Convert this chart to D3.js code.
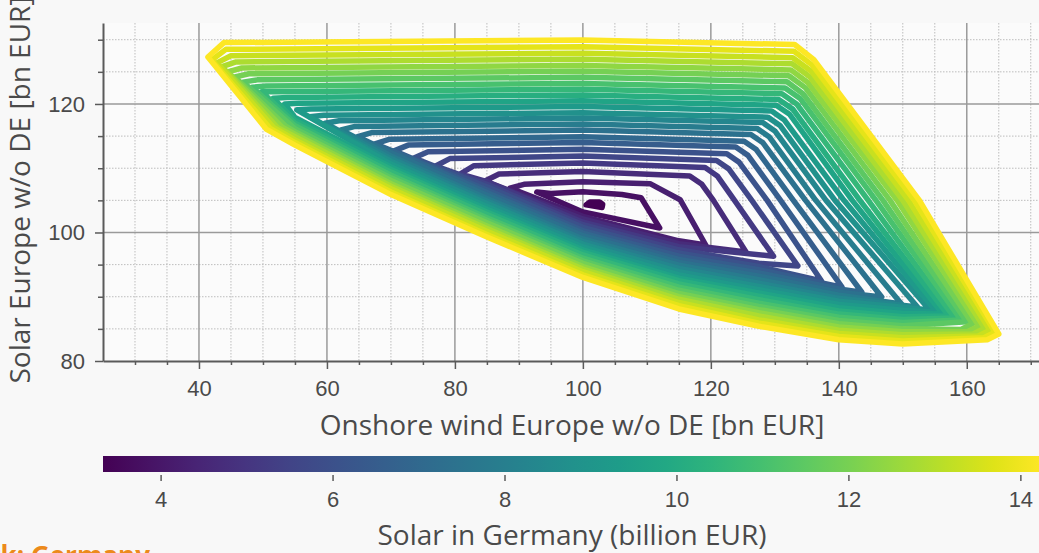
<!DOCTYPE html>
<html>
<head>
<meta charset="utf-8">
<script src="https://cdn.jsdelivr.net/npm/d3@7"></script>
<style>
  html, body { margin: 0; padding: 0; background: #f8f8f8; }
  svg { display: block; font-family: "Open Sans", "Noto Sans", sans-serif; }
</style>
</head>
<body>
<svg id="chart" width="1039" height="553"></svg>
<script>
// Contour levels: solar capacity cost in Germany (billion EUR), innermost first
const levels = [3.33, 3.78, 4.24, 4.69, 5.15, 5.60, 6.06, 6.51, 6.97, 7.42, 7.88, 8.33, 8.79,
                9.24, 9.70, 10.15, 10.60, 11.06, 11.51, 11.97, 12.42, 12.88, 13.33, 13.79, 14.24];

// Each contour ring, traced clockwise: left tip -> top edge -> top-right bend ->
// right flank -> right tip -> lower edge (sampled on fixed wind columns) -> back to the left tip.
const leftX = [100.5, 92.8, 88.6, 84.7, 80.8, 77.0, 73.6, 70.5, 67.5, 64.8, 62.2, 59.7, 57.3,
               55.3, 53.4, 51.6, 49.8, 48.3, 46.9, 45.6, 44.5, 43.6, 42.8, 42.0, 41.4];
const leftY = [104.3, 106.3, 106.9, 108.0, 109.1, 110.35, 111.6, 112.7, 113.8, 114.9, 115.95, 117.0, 118.0,
               119.1, 120.0, 120.9, 121.9, 122.6, 123.4, 124.2, 125.0, 125.8, 126.4, 126.85, 127.3];
const topLeftX = [101.1, 95.0, 90.8, 86.9, 83.0, 79.2, 75.8, 72.7, 69.7, 67.0, 64.4, 61.9, 59.5,
                  57.5, 55.6, 53.8, 52.0, 50.5, 49.1, 47.8, 46.7, 45.8, 45.0, 44.2, 43.9];
const topLeftY = [104.75, 106.05, 107.5, 109.1, 110.4, 111.5, 112.55, 113.6, 114.5, 115.55, 116.5, 117.4, 118.25,
                  119.2, 120.1, 121.0, 121.9, 122.8, 123.75, 124.7, 125.6, 126.55, 127.5, 128.5, 129.55];
// top edge crossing of the wind = 100 column
const topTransectX = 100;
const topMidY = [null, 106.35, 107.9, 109.5, 110.8, 111.9, 112.95, 114.0, 114.9, 115.95, 116.9, 117.8, 118.65,
                 119.6, 120.5, 121.4, 122.3, 123.2, 124.15, 125.1, 126.0, 126.95, 127.9, 128.9, 129.95];
const topRightX = [102.6, 106.1, 110.5, 116.7, 119.1, 120.9, 122.5, 123.9, 125.2, 126.25, 127.2, 128.1, 128.9,
                   129.5, 130.2, 130.6, 131.1, 131.6, 131.9, 132.2, 132.5, 132.7, 132.8, 133.0, 133.1];
const topRightY = [104.75, 105.9, 107.6, 108.8, 110.1, 111.2, 112.25, 113.3, 114.2, 115.25, 116.2, 117.1, 117.95,
                   118.9, 119.8, 120.7, 121.6, 122.5, 123.45, 124.4, 125.3, 126.25, 127.2, 128.2, 129.25];
const bendX = [103.1, 109.1, 115.2, 118.6, 121.0, 122.8, 124.4, 125.8, 127.1, 128.15, 129.1, 130.0, 130.8,
               131.5, 132.3, 132.8, 133.4, 134.0, 134.4, 134.8, 135.2, 135.5, 135.7, 135.9, 136.1];
const bendY = [104.4, 105.4, 105.1, 107.5, 108.8, 109.9, 110.95, 112.0, 112.9, 113.95, 114.9, 115.8, 116.65,
               117.5, 118.4, 119.2, 120.0, 120.8, 121.6, 122.5, 123.3, 124.2, 125.1, 126.0, 126.9];
// right flank crossing of the solar = 105 row
const sideTransectY = 105;
const sideX = [null, null, null, 120.4, 123.7, 126.4, 128.8, 130.9, 132.9, 134.8, 136.4, 138.0, 139.4,
               140.8, 142.1, 143.3, 144.6, 145.8, 146.9, 148.0, 149.1, 150.0, 150.9, 151.8, 152.6];
const tipX = [103.0, 112.0, 119.2, 125.5, 129.8, 133.6, 137.3, 140.5, 143.6, 146.7, 149.8, 152.3, 154.2,
              155.3, 156.25, 157.2, 158.1, 159.1, 160.0, 160.9, 161.9, 162.8, 163.6, 164.4, 165.0];
const tipY = [103.9, 100.7, 98.05, 96.96, 96.3, 94.8, 92.45, 91.5, 90.7, 89.96, 88.87, 88.4, 87.94,
              87.6, 87.3, 87.0, 86.7, 86.4, 86.1, 85.8, 85.45, 85.1, 84.8, 84.5, 84.2];
// rounded lower-right corner of the outer rings
const cornerX = [null, null, null, null, null, null, null, null, null, null, null, null, null,
                 null, null, null, null, null, null, 159.1, 160.1, 161.0, 161.8, 162.6, 163.2];
const cornerY = [null, null, null, null, null, null, null, null, null, null, null, null, null,
                 null, null, null, null, null, null, 84.9, 84.55, 84.2, 83.9, 83.6, 83.3];
// lower edge: solar value where each ring crosses these wind columns
const lowerCols = [55, 70, 85, 100, 115, 127.5, 140, 150];
const lowerY = [
  [null, null, null, null, null, null, null, null],
  [null, null, null, 103.2, null, null, null, null],
  [null, null, null, 102.5, 98.7, null, null, null],
  [null, null, null, 102.1, 98.25, null, null, null],
  [null, null, 107.9, 101.6, 97.8, null, null, null],
  [null, null, 107.5, 101.2, 97.3, 95.2, null, null],
  [null, null, 107.1, 100.8, 96.8, 94.7, null, null],
  [null, null, 106.6, 100.3, 96.3, 94.2, null, null],
  [null, 112.8, 106.2, 99.9, 95.8, 93.7, 91.2, null],
  [null, 112.4, 105.8, 99.5, 95.35, 93.2, 90.7, null],
  [null, 111.9, 105.3, 99.0, 94.9, 92.65, 90.25, null],
  [null, 111.5, 104.9, 98.6, 94.4, 92.1, 89.75, null],
  [null, 111.1, 104.5, 98.2, 93.9, 91.6, 89.3, 88.35],
  [null, 110.65, 104.05, 97.75, 93.4, 91.1, 88.8, 87.9],
  [117.9, 110.2, 103.6, 97.3, 92.9, 90.6, 88.3, 87.4],
  [117.45, 109.8, 103.2, 96.9, 92.5, 90.1, 87.8, 86.9],
  [117.0, 109.4, 102.8, 96.5, 92.0, 89.55, 87.3, 86.45],
  [116.6, 108.9, 102.3, 96.0, 91.5, 89.0, 86.8, 86.0],
  [116.15, 108.5, 101.9, 95.6, 91.0, 88.5, 86.3, 85.5],
  [115.7, 108.1, 101.5, 95.2, 90.5, 88.0, 85.8, 85.0],
  [115.3, 107.6, 101.0, 94.7, 90.0, 87.5, 85.3, 84.55],
  [114.9, 107.2, 100.6, 94.3, 89.6, 87.0, 84.8, 84.1],
  [114.4, 106.8, 100.2, 93.9, 89.1, 86.4, 84.3, 83.6],
  [114.0, 106.3, 99.7, 93.4, 88.6, 85.9, 83.8, 83.1],
  [113.6, 105.9, 99.3, 93.0, 88.1, 85.4, 83.3, 82.65]
];
// knee where the steep left side of the outer rings meets the lower band
const kneeX = [null, null, null, null, null, null, null, null, null, null, null, null, null,
               null, null, null, null, null, null, 53.6, 53.0, 52.3, 51.7, 51.1, 50.5];
const kneeY = [null, null, null, null, null, null, null, null, null, null, null, null, null,
               null, null, null, null, null, null, 116.5, 116.4, 116.3, 116.3, 116.2, 116.1];

// Axes
const xDomain = [25, 171.6];
const yDomain = [80, 132.6];
const xMajorTicks = [40, 60, 80, 100, 120, 140, 160];
const xMinorTicks = d3.range(30, 171, 5);
const yMajorTicks = [80, 100, 120];
const yMinorTicks = [85, 90, 95, 105, 110, 115, 125, 130];
const colorDomain = [3.33, 14.24];
const colorTicks = [4, 6, 8, 10, 12, 14];

const xTitle = "Onshore wind Europe w/o DE [bn EUR]";
const yTitle = "Solar Europe w/o DE [bn EUR]";
const colorTitle = "Solar in Germany (billion EUR)";
const caption = "Network: Germany";

const svg = d3.select("#chart");
const plot = { left: 103, right: 1041, top: 23, bottom: 361 };

const x = d3.scaleLinear().domain(xDomain).range([plot.left, plot.right]);
const y = d3.scaleLinear().domain(yDomain).range([plot.bottom, plot.top]);
const color = d3.scaleSequential(d3.interpolateViridis).domain(d3.extent(levels));

svg.append("rect").attr("x", plot.left).attr("y", plot.top)
  .attr("width", plot.right - plot.left).attr("height", plot.bottom - plot.top)
  .attr("fill", "#fbfbfb");

// grid
const grid = svg.append("g");
grid.selectAll(".vminor").data(xMinorTicks.filter(v => !xMajorTicks.includes(v))).join("line")
  .attr("x1", d => x(d)).attr("x2", d => x(d)).attr("y1", plot.top).attr("y2", plot.bottom)
  .attr("stroke", "#bdbdbd").attr("stroke-width", 1).attr("stroke-dasharray", "1.5,1.5");
grid.selectAll(".hminor").data(yMinorTicks).join("line")
  .attr("x1", plot.left).attr("x2", plot.right).attr("y1", d => y(d)).attr("y2", d => y(d))
  .attr("stroke", "#bdbdbd").attr("stroke-width", 1).attr("stroke-dasharray", "1.5,1.5");
grid.selectAll(".vmajor").data(xMajorTicks).join("line")
  .attr("x1", d => x(d)).attr("x2", d => x(d)).attr("y1", plot.top).attr("y2", plot.bottom)
  .attr("stroke", "#9a9a9a").attr("stroke-width", 1.5);
grid.selectAll(".hmajor").data(yMajorTicks.filter(v => v !== 80)).join("line")
  .attr("x1", plot.left).attr("x2", plot.right).attr("y1", d => y(d)).attr("y2", d => y(d))
  .attr("stroke", "#9a9a9a").attr("stroke-width", 1.5);

// contour rings
const rings = levels.map((lev, i) => {
  const pts = [[leftX[i], leftY[i]], [topLeftX[i], topLeftY[i]]];
  if (topMidY[i] != null && topLeftX[i] < topTransectX && topRightX[i] > topTransectX) pts.push([topTransectX, topMidY[i]]);
  pts.push([topRightX[i], topRightY[i]], [bendX[i], bendY[i]]);
  if (sideX[i] != null) pts.push([sideX[i], sideTransectY]);
  pts.push([tipX[i], tipY[i]]);
  if (cornerX[i] != null) pts.push([cornerX[i], cornerY[i]]);
  for (let j = lowerCols.length - 1; j >= 0; j--) {
    if (lowerY[i][j] != null) pts.push([lowerCols[j], lowerY[i][j]]);
  }
  if (kneeX[i] != null) pts.push([kneeX[i], kneeY[i]]);
  return { level: lev, pts };
});

const line = d3.line().x(d => x(d[0])).y(d => y(d[1])).curve(d3.curveLinearClosed);
svg.append("g").selectAll("path").data(rings).join("path")
  .attr("d", d => line(d.pts))
  .attr("fill", (d, i) => i === 0 ? color(d.level) : "none")
  .attr("stroke", d => color(d.level))
  .attr("stroke-width", 5.5)
  .attr("stroke-linejoin", "round");

// axes
const axisColor = "#5a5a5a";
const textColor = "#4a4a4a";
svg.append("g").attr("transform", `translate(0,${plot.bottom})`)
  .call(d3.axisBottom(x).tickValues(xMajorTicks).tickSize(8).tickSizeOuter(0).tickPadding(11));
svg.append("g").attr("transform", `translate(0,${plot.bottom})`)
  .call(d3.axisBottom(x).tickValues(xMinorTicks.filter(v => !xMajorTicks.includes(v))).tickSize(4).tickFormat("").tickSizeOuter(0))
  .call(g => g.select(".domain").remove());
svg.append("g").attr("transform", `translate(${plot.left},0)`)
  .call(d3.axisLeft(y).tickValues(yMajorTicks).tickSize(8).tickSizeOuter(0).tickPadding(10));
svg.append("g").attr("transform", `translate(${plot.left},0)`)
  .call(d3.axisLeft(y).tickValues(yMinorTicks).tickSize(5).tickFormat("").tickSizeOuter(0))
  .call(g => g.select(".domain").remove());

svg.selectAll(".domain").attr("stroke", axisColor).attr("stroke-width", 2);
svg.selectAll(".tick line").attr("stroke", axisColor).attr("stroke-width", 1.5);
svg.selectAll(".tick text").attr("fill", textColor).style("font-size", "22px");

svg.append("text").attr("x", (plot.left + plot.right) / 2).attr("y", 435)
  .attr("text-anchor", "middle").attr("fill", textColor).style("font-size", "28px").text(xTitle);
svg.append("text").attr("transform", `translate(30,${(plot.top + plot.bottom) / 2 - 2}) rotate(-90)`)
  .attr("text-anchor", "middle").attr("fill", textColor).style("font-size", "28px").text(yTitle);

// colorbar
const cbar = { top: 456, height: 16 };
const cx = d3.scaleLinear().domain(colorDomain).range([plot.left, plot.right]);
const grad = svg.append("defs").append("linearGradient").attr("id", "viridisBar")
  .attr("x1", "0%").attr("x2", "100%");
d3.range(0, 1.0001, 0.05).forEach(t => {
  grad.append("stop").attr("offset", `${t * 100}%`).attr("stop-color", d3.interpolateViridis(t));
});
svg.append("rect").attr("x", cx(colorDomain[0])).attr("y", cbar.top)
  .attr("width", cx(colorDomain[1]) - cx(colorDomain[0])).attr("height", cbar.height)
  .attr("fill", "url(#viridisBar)");
const cAxis = svg.append("g").attr("transform", `translate(0,${cbar.top + cbar.height + 3})`)
  .call(d3.axisBottom(cx).tickValues(colorTicks).tickFormat(d3.format("d")).tickSize(6).tickPadding(10));
cAxis.select(".domain").remove();
cAxis.selectAll(".tick line").attr("stroke", axisColor).attr("stroke-width", 1.5);
cAxis.selectAll(".tick text").attr("fill", textColor).style("font-size", "22px");

svg.append("text").attr("x", (plot.left + plot.right) / 2).attr("y", 545)
  .attr("text-anchor", "middle").attr("fill", textColor).style("font-size", "28px").text(colorTitle);

svg.append("text").attr("x", 150).attr("y", 565).attr("text-anchor", "end")
  .attr("fill", "#ec8a1b").style("font-size", "26px").style("font-weight", "bold").text(caption);
</script>
</body>
</html>
